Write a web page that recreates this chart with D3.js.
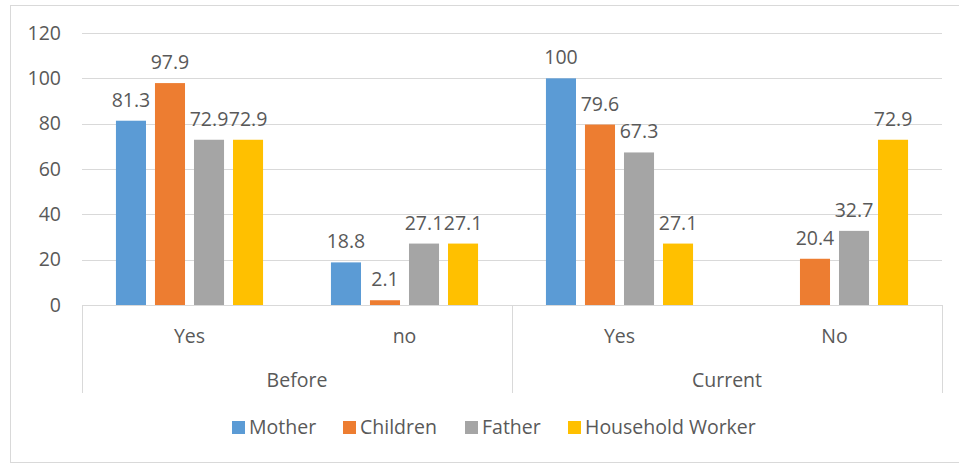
<!DOCTYPE html>
<html>
<head>
<meta charset="utf-8">
<script src="https://cdn.jsdelivr.net/npm/d3@7"></script>
<style>
  html, body { margin: 0; padding: 0; background: #fff; }
  svg { display: block; font-family: "Open Sans", Lato, sans-serif; }
</style>
</head>
<body>
<svg id="chart" width="959" height="464"></svg>
<script>
// Periods and answers (two-level category axis)
const periods = ["Before", "Current"];
const answers = [["Yes", "no"], ["Yes", "No"]];
const seriesNames = ["Mother", "Children", "Father", "Household Worker"];
const seriesColors = ["#5B9BD5", "#ED7D31", "#A5A5A5", "#FFC000"];

// Values per category, one entry per series (null = no bar)
const beforeYes = [81.3, 97.9, 72.9, 72.9];
const beforeNo = [18.8, 2.1, 27.1, 27.1];
const currentYes = [100, 79.6, 67.3, 27.1];
const currentNo = [null, 20.4, 32.7, 72.9];

const yTicks = [0, 20, 40, 60, 80, 100, 120];

const categories = [
  { period: 0, label: answers[0][0], values: beforeYes },
  { period: 0, label: answers[0][1], values: beforeNo },
  { period: 1, label: answers[1][0], values: currentYes },
  { period: 1, label: answers[1][1], values: currentNo }
];

const svg = d3.select("#chart");
const plot = { left: 82, right: 942, top: 33, bottom: 305 };
const textColor = "#595959";
const lineColor = "#D9D9D9";
const fontSize = 19.5;

// Outer chart border (right edge runs past the canvas)
svg.append("rect")
  .attr("x", 10.5).attr("y", 5.5)
  .attr("width", 960).attr("height", 457)
  .attr("fill", "#fff").attr("stroke", lineColor).attr("stroke-width", 1);

const y = d3.scaleLinear().domain([0, 120]).range([plot.bottom, plot.top]);
const x0 = d3.scaleBand().domain(d3.range(categories.length))
  .range([plot.left, plot.right]).paddingInner(0).paddingOuter(0);
const x1 = d3.scaleBand().domain(d3.range(seriesNames.length))
  .range([0, x0.bandwidth()]).paddingInner(0.23).paddingOuter(0.87);

// Gridlines
svg.append("g").selectAll("line").data(yTicks.filter(t => t > 0)).join("line")
  .attr("x1", plot.left).attr("x2", plot.right)
  .attr("y1", d => Math.round(y(d)) + 0.5).attr("y2", d => Math.round(y(d)) + 0.5)
  .attr("stroke", lineColor).attr("stroke-width", 1);

// Y axis labels
const yAxis = d3.axisLeft(y).tickValues(yTicks).tickSize(0).tickPadding(0);
const gy = svg.append("g").attr("transform", `translate(61,0)`).call(yAxis);
gy.select(".domain").remove();
gy.selectAll("text")
  .attr("fill", textColor).attr("font-size", fontSize)
  .attr("font-family", "'Open Sans', Lato, sans-serif");

// Bars
const catG = svg.append("g").selectAll("g").data(categories).join("g")
  .attr("transform", (d, i) => `translate(${x0(i)},0)`);

const present = d => d.values.map((v, k) => ({ v, k })).filter(e => e.v !== null);

catG.selectAll("rect").data(present).join("rect")
  .attr("x", e => x1(e.k))
  .attr("width", x1.bandwidth())
  .attr("y", e => y(e.v))
  .attr("height", e => y(0) - y(e.v))
  .attr("fill", e => seriesColors[e.k]);

// Value labels
catG.selectAll("text.val").data(present).join("text")
  .attr("class", "val")
  .attr("x", e => x1(e.k) + x1.bandwidth() / 2)
  .attr("y", e => y(e.v) - 14)
  .attr("text-anchor", "middle")
  .attr("font-size", fontSize)
  .attr("fill", textColor)
  .text(e => String(e.v));

// Category axis baseline
svg.append("line")
  .attr("x1", plot.left).attr("x2", plot.right)
  .attr("y1", plot.bottom + 0.5).attr("y2", plot.bottom + 0.5)
  .attr("stroke", lineColor);

// Separators between periods
const sepX = [0, 2, 4].map(i => i < categories.length ? x0(i) : plot.right);
svg.append("g").selectAll("line").data(sepX).join("line")
  .attr("x1", d => Math.round(d) + 0.5).attr("x2", d => Math.round(d) + 0.5)
  .attr("y1", plot.bottom).attr("y2", 393)
  .attr("stroke", lineColor);

// First-level labels
svg.append("g").selectAll("text").data(categories).join("text")
  .attr("x", (d, i) => x0(i) + x0.bandwidth() / 2)
  .attr("y", 343)
  .attr("text-anchor", "middle")
  .attr("font-size", fontSize)
  .attr("fill", textColor)
  .text(d => d.label);

// Second-level labels
svg.append("g").selectAll("text").data(periods).join("text")
  .attr("x", (d, p) => x0(p * 2) + x0.bandwidth())
  .attr("y", 387)
  .attr("text-anchor", "middle")
  .attr("font-size", fontSize)
  .attr("fill", textColor)
  .text(d => d);

// Legend
const legendX = [232, 343, 465, 568];
const lg = svg.append("g").selectAll("g").data(seriesNames).join("g")
  .attr("transform", (d, i) => `translate(${legendX[i]},434)`);
lg.append("rect").attr("x", 0).attr("y", -13).attr("width", 13).attr("height", 13)
  .attr("fill", (d, i) => seriesColors[i]);
lg.append("text").attr("x", 17).attr("y", 0)
  .attr("font-size", fontSize).attr("fill", textColor)
  .text(d => d);
</script>
</body>
</html>
